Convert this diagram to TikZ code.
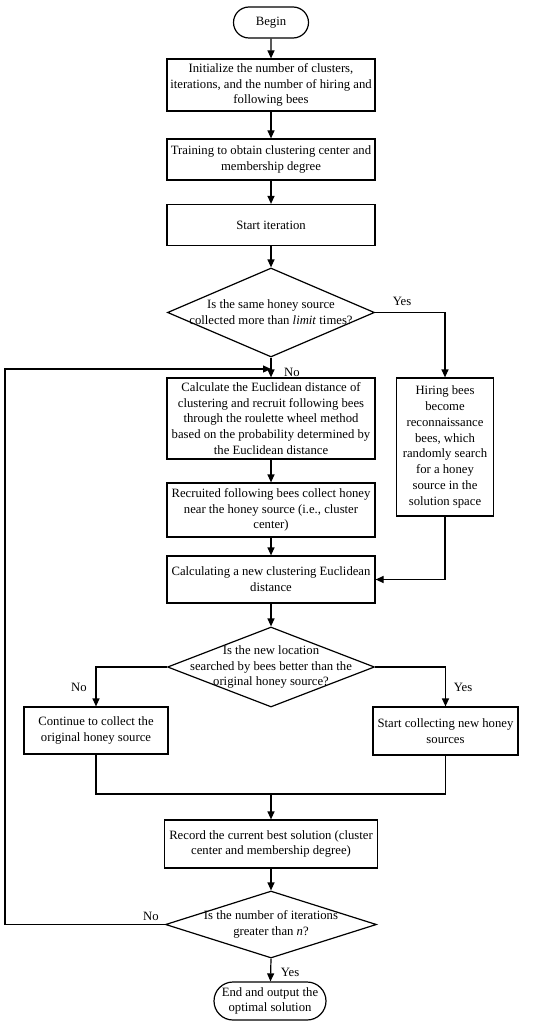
\documentclass[tikz,border=0pt]{standalone}
\usepackage{fontspec}
\setmainfont{Liberation Serif}
\usetikzlibrary{arrows.meta,shapes.geometric,shapes.misc}
\begin{document}
\begin{tikzpicture}[x=1pt,y=-1pt,
  every node/.style={font=\fontsize{12.7}{15.8}\selectfont},
  box/.style={draw, line width=1.2pt, align=center, inner sep=0pt},
  pill/.style={draw, line width=1.2pt, align=center, inner sep=0pt, rounded rectangle},
  dia/.style={draw, line width=1.2pt, diamond, inner sep=0pt},
  txt/.style={align=center, inner sep=0pt},
  lbl/.style={inner sep=0pt},
  arr/.style={-{Triangle[length=8pt,width=7pt]}, line width=1.2pt},
  ln/.style={line width=1.2pt}]
\useasboundingbox (0,0) rectangle (550,1027);

\node[pill, minimum width=75pt, minimum height=31pt] (begin) at (271,22.5) {Begin};
\node[box, minimum width=208pt, minimum height=52pt] (b1) at (271,85) {Initialize the number of clusters,\\iterations, and the number of hiring and\\following bees};
\node[box, minimum width=208pt, minimum height=41pt] (b2) at (271,159.5) {Training to obtain clustering center and\\membership degree};
\node[box, minimum width=208pt, minimum height=41pt] (b3) at (271,225) {Start iteration};
\node[dia, minimum width=207pt, minimum height=89pt] (d1) at (271,312.5) {};
\node[txt] (d1t) at (d1.center) {Is the same honey source\\collected more than \textit{limit} times?};
\node[box, minimum width=208pt, minimum height=81pt] (b4) at (271,418.5) {Calculate the Euclidean distance of\\clustering and recruit following bees\\through the roulette wheel method\\based on the probability determined by\\the Euclidean distance};
\node[box, minimum width=97pt, minimum height=138pt] (hire) at (445,447) {Hiring bees\\become\\reconnaissance\\bees, which\\randomly search\\for a honey\\source in the\\solution space};
\node[box, minimum width=208pt, minimum height=54pt] (b5) at (271,510) {Recruited following bees collect honey\\near the honey source (i.e., cluster\\center)};
\node[box, minimum width=208pt, minimum height=47pt] (b6) at (271,579.5) {Calculating a new clustering Euclidean\\distance};
\node[dia, minimum width=207pt, minimum height=80pt] (d2) at (271,667) {};
\node[txt] (d2t) at (d2.center) {Is the new location\\searched by bees better than the\\original honey source?};
\node[box, minimum width=144pt, minimum height=47pt] (cont) at (96,730.5) {Continue to collect the\\original honey source};
\node[box, minimum width=145pt, minimum height=48pt] (newh) at (445.5,731) {Start collecting new honey\\sources};
\node[box, minimum width=213pt, minimum height=48pt] (rec) at (271,844) {Record the current best solution (cluster\\center and membership degree)};
\node[dia, minimum width=211pt, minimum height=67pt] (d3) at (271,924.5) {};
\node[txt] (d3t) at (d3.center) {Is the number of iterations\\greater than \textit{n}?};
\node[pill, minimum width=112pt, minimum height=38pt] (end) at (270,1001) {End and output the\\optimal solution};

\coordinate (j) at (271,369);
\coordinate (m) at (271,794);
\coordinate (lp) at (5,924.5);

\draw[arr] (begin) -- (b1);
\draw[arr] (b1) -- (b2);
\draw[arr] (b2) -- (b3);
\draw[arr] (b3) -- (d1.north);
\draw[arr] (d1.south) -- (b4.north);
\draw[arr] (d1.east) -| (hire.north);
\draw[arr] (b4) -- (b5);
\draw[arr] (b5) -- (b6);
\draw[arr] (hire.south) |- (b6.east);
\draw[arr] (b6) -- (d2.north);
\draw[arr] (d2.west) -| (cont.north);
\draw[arr] (d2.east) -| (newh.north);
\draw[ln] (cont.south) |- (m);
\draw[ln] (newh.south) |- (m);
\draw[arr] (m) -- (rec.north);
\draw[arr] (rec) -- (d3.north);
\draw[arr] (d3.south) -- (end);
\draw[arr] (d3.west) -- (lp) |- (j);

\node[lbl] (y1) at (402,301) {Yes};
\node[lbl] (n1) at (292,372) {No};
\node[lbl] (n2) at (79,687) {No};
\node[lbl] (y2) at (463,687) {Yes};
\node[lbl] (n3) at (151,916) {No};
\node[lbl] (y3) at (290,972) {Yes};
\end{tikzpicture}
\end{document}
